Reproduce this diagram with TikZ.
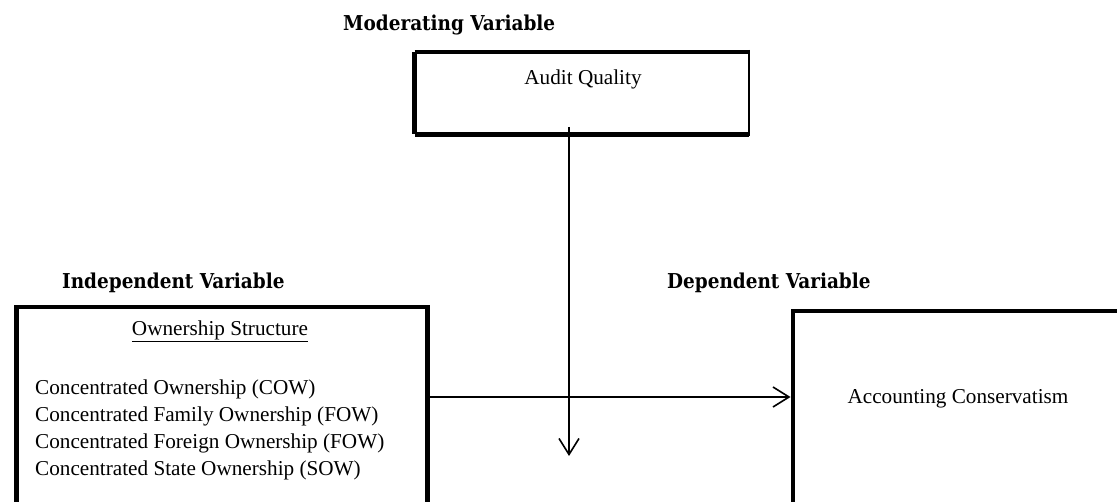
\documentclass[tikz,border=0pt]{standalone}
\usepackage{fontspec}
\setmainfont{Liberation Serif}
\newfontfamily\headfont{DejaVu Serif Condensed}
\usetikzlibrary{arrows.meta}

\tikzset{
  framebox/.style={draw=black, line width=4.5pt, fill=none},
  heading/.style={anchor=west, inner sep=0pt, font=\headfont\bfseries\fontsize{20.5}{22}\selectfont},
  bodytext/.style={inner sep=0pt, font=\fontsize{21.2}{27}\selectfont},
  flow/.style={draw=black, line width=1.8pt, -{Straight Barb[length=16pt, width=20pt, line width=1.6pt]}}
}

\begin{document}
\begin{tikzpicture}[x=1pt, y=-1pt]
\useasboundingbox (0,0) rectangle (1117,502);
\clip (0,0) rectangle (1117,502);

% moderating variable
\node[heading] (hmod) at (343,25) {Moderating Variable};
\draw[framebox] (414.5,52) -- (748.5,52);
\draw[framebox] (414.5,134.5) -- (748.5,134.5);
\draw[framebox] (414.5,52) -- (414.5,134.5);
\draw[draw=black, line width=2pt] (748.5,50) -- (748.5,136.5);
\node[bodytext] (aq) at (583,79) {Audit Quality};

% independent variable
\node[heading] (hind) at (62,283) {Independent Variable};
\node[framebox, minimum width=411pt, minimum height=230pt, anchor=north west] (own) at (14,305) {};
\node[bodytext, anchor=center] (ostitle) at (220,331) {\underline{Ownership Structure}};
\node[bodytext, anchor=north west, align=left] (olist) at (35,380)
  {Concentrated Ownership (COW)\\
   Concentrated Family Ownership (FOW)\\
   Concentrated Foreign Ownership (FOW)\\
   Concentrated State Ownership (SOW)};

% dependent variable
\node[heading] (hdep) at (667,283) {Dependent Variable};
\node[framebox, minimum width=360pt, minimum height=230pt, anchor=north west] (acc) at (790.5,309) {};
\node[bodytext] (actext) at (958,399) {Accounting Conservatism};

% connectors
\coordinate (modstart) at (569,127);
\coordinate (modend) at (569,456);
\draw[flow] (modstart) -- (modend);
\draw[flow] (own.east |- 0,397) -- (acc.west |- 0,397);
\end{tikzpicture}
\end{document}
